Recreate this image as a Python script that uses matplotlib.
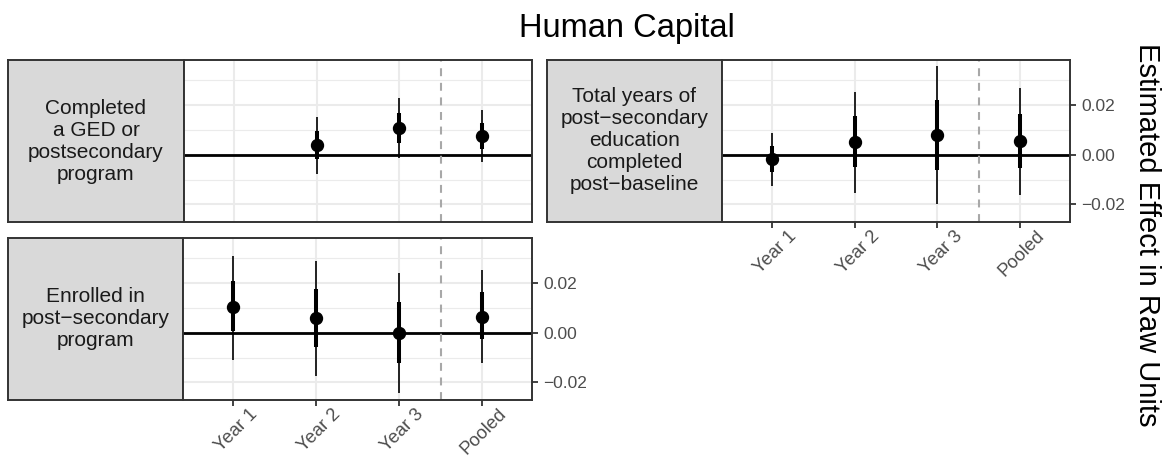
"""Human Capital: estimated effects by year, three outcome panels."""

import matplotlib
matplotlib.use("Agg")
import matplotlib.pyplot as plt
import matplotlib.transforms as mtransforms
import numpy as np

plt.rcParams["font.family"] = ["Liberation Sans", "DejaVu Sans"]

W, H = 1166, 459

categories = ["Year 1", "Year 2", "Year 3", "Pooled"]

# Completed a GED or postsecondary program (no Year 1 estimate)
ged_est = [np.nan, 0.0038, 0.0109, 0.0075]
ged_lo = [np.nan, -0.0077, -0.0013, -0.0030]
ged_hi = [np.nan, 0.0152, 0.0228, 0.0181]
ged_lo_in = [np.nan, -0.0016, 0.0048, 0.0024]
ged_hi_in = [np.nan, 0.0094, 0.0169, 0.0128]

# Total years of post-secondary education completed post-baseline
yrs_est = [-0.0018, 0.0051, 0.0078, 0.0055]
yrs_lo = [-0.0125, -0.0155, -0.0198, -0.0162]
yrs_hi = [0.0088, 0.0253, 0.0357, 0.0267]
yrs_lo_in = [-0.0071, -0.0050, -0.0063, -0.0054]
yrs_hi_in = [0.0036, 0.0155, 0.0220, 0.0162]

# Enrolled in post-secondary program
enr_est = [0.0102, 0.0058, -0.0003, 0.0065]
enr_lo = [-0.0108, -0.0174, -0.0242, -0.0121]
enr_hi = [0.0310, 0.0290, 0.0242, 0.0253]
enr_lo_in = [0.0005, -0.0057, -0.0124, -0.0027]
enr_hi_in = [0.0206, 0.0175, 0.0125, 0.0162]

y_major = [-0.02, 0.0, 0.02]
y_minor = [-0.01, 0.01, 0.03]
y_labels = ["\u22120.02", "0.00", "0.02"]

DARK = "#333333"
TICK_TXT = "#4D4D4D"
GRID = "#EBEBEB"


def rect(l, t, r, b):
    """Pixel box (left, top, right, bottom) -> figure fraction rect."""
    return [l / W, 1 - b / H, (r - l) / W, (b - t) / H]


def panel(fig, strip_px, plot_px, label, est, lo, hi, lo_in, hi_in, show_y, show_x):
    sax = fig.add_axes(rect(*strip_px))
    sax.set_facecolor("#D9D9D9")
    sax.set_xticks([])
    sax.set_yticks([])
    for s in sax.spines.values():
        s.set_color(DARK)
        s.set_linewidth(1.4)
    sax.text(0.5, 0.5, label, ha="center", va="center", fontsize=15,
             color="#1A1A1A", linespacing=1.2, transform=sax.transAxes)

    ax = fig.add_axes(rect(*plot_px))
    x = np.arange(1, len(categories) + 1)
    ax.set_xlim(0.4, 4.6)
    ax.set_ylim(-0.0271, 0.0381)
    ax.set_xticks(x)
    ax.set_yticks(y_major)
    ax.set_yticks(y_minor, minor=True)
    ax.grid(which="major", color=GRID, linewidth=1.5, zorder=0)
    ax.grid(which="minor", axis="y", color=GRID, linewidth=0.85, zorder=0)
    ax.set_axisbelow(True)
    ax.yaxis.tick_right()
    ax.tick_params(which="minor", length=0)
    ax.tick_params(which="major", color=DARK, width=1.3, length=4.5,
                   labelcolor=TICK_TXT, labelsize=12.5)
    if show_y:
        ax.set_yticklabels(y_labels)
    else:
        ax.tick_params(axis="y", which="major", length=0, labelright=False)
    if show_x:
        ax.set_xticklabels(categories, rotation=45, ha="right", va="top",
                           rotation_mode="anchor", fontsize=13.2)
        ax.tick_params(axis="x", pad=1)
        shift = mtransforms.ScaledTranslation(0.16, 0.02, fig.dpi_scale_trans)
        for lab in ax.get_xticklabels():
            lab.set_transform(lab.get_transform() + shift)
    else:
        ax.tick_params(axis="x", length=0, labelbottom=False)
    for s in ax.spines.values():
        s.set_color(DARK)
        s.set_linewidth(1.4)

    ax.axhline(0, color="black", linewidth=2.0, zorder=2)
    ax.axvline(3.5, color="#A8A8A8", linewidth=1.5, linestyle=(0, (3.8, 3.2)), zorder=2)
    ax.vlines(x, lo, hi, color="black", linewidth=1.2, zorder=3)
    ax.vlines(x, lo_in, hi_in, color="black", linewidth=2.9, zorder=3)
    ax.plot(x, est, "o", color="black", markersize=8.6, zorder=4)
    return ax


fig = plt.figure(figsize=(W / 100, H / 100), dpi=100)

panel(fig, (8, 60, 184, 222), (184, 60, 532, 222),
      "Completed\na GED or\npostsecondary\nprogram",
      ged_est, ged_lo, ged_hi, ged_lo_in, ged_hi_in, show_y=False, show_x=False)
panel(fig, (547, 60, 722, 222), (722, 60, 1070, 222),
      "Total years of\npost\u2212secondary\neducation\ncompleted\npost\u2212baseline",
      yrs_est, yrs_lo, yrs_hi, yrs_lo_in, yrs_hi_in, show_y=True, show_x=True)
panel(fig, (8, 238, 183, 400), (183, 238, 532, 400),
      "Enrolled in\npost\u2212secondary\nprogram",
      enr_est, enr_lo, enr_hi, enr_lo_in, enr_hi_in, show_y=True, show_x=True)

fig.text(627 / W, 1 - 37 / H, "Human Capital", ha="center", va="baseline",
         fontsize=23.5, color="black")
fig.text(1147 / W, 1 - 235 / H, "Estimated Effect in Raw Units", rotation=-90,
         ha="center", va="center", fontsize=21, color="black")

fig.savefig("out.png", dpi=100)
